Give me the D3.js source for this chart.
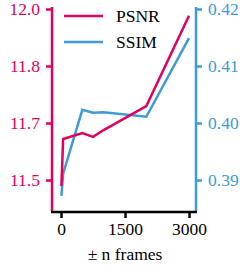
<!DOCTYPE html>
<html>
<head>
<meta charset="utf-8">
<script src="https://cdn.jsdelivr.net/npm/d3@7"></script>
<style>
  body { margin: 0; background: #fff; }
</style>
</head>
<body>
<svg id="chart" width="240" height="266"></svg>
<script>
// data
var frames = [10, 50, 500, 750, 1000, 2000, 3000];
var psnr = [11.482, 11.620, 11.637, 11.626, 11.646, 11.716, 11.980];
var ssim = [0.3872, 0.3911, 0.4023, 0.4018, 0.4019, 0.4011, 0.4149];
var xTicks = [0, 1500, 3000];
var psnrTicks = [11.5, 11.5 + 0.5 / 3, 11.5 + 1 / 3, 12.0];
var ssimTicks = [0.39, 0.40, 0.41, 0.42];

var red = "#e3005d", blue = "#3d9bd7";
var serif = "'Liberation Serif', 'Times New Roman', serif";
var svg = d3.select("#chart");

var leftX = 52, rightX = 196, baseY = 212, topY = 7;

var x = d3.scaleLinear().domain([0, 3000]).range([61, 189]);
var yL = d3.scaleLinear().domain([11.5, 12.0]).range([180, 9]);
var yR = d3.scaleLinear().domain([0.39, 0.42]).range([180, 9]);

// lines
var lineL = d3.line().x(function (d, i) { return x(frames[i]); }).y(function (d) { return yL(d); });
var lineR = d3.line().x(function (d, i) { return x(frames[i]); }).y(function (d) { return yR(d); });

svg.append("path").attr("d", lineR(ssim))
    .attr("fill", "none").attr("stroke", blue).attr("stroke-width", 2.5);
svg.append("path").attr("d", lineL(psnr))
    .attr("fill", "none").attr("stroke", red).attr("stroke-width", 2.5);

// left axis
var gl = svg.append("g").attr("transform", "translate(" + leftX + ",0)")
    .call(d3.axisLeft(yL).tickValues(psnrTicks).tickFormat(d3.format(".1f")).tickSize(6).tickPadding(6));
gl.select(".domain").remove();
gl.selectAll("line").attr("stroke", red).attr("stroke-width", 2.5);
gl.selectAll("text").attr("fill", red);
gl.append("line").attr("x1", 0).attr("x2", 0).attr("y1", topY).attr("y2", baseY)
    .attr("stroke", red).attr("stroke-width", 2.5);

// right axis
var gr = svg.append("g").attr("transform", "translate(" + rightX + ",0)")
    .call(d3.axisRight(yR).tickValues(ssimTicks).tickFormat(d3.format(".2f")).tickSize(6).tickPadding(6));
gr.select(".domain").remove();
gr.selectAll("line").attr("stroke", blue).attr("stroke-width", 2.5);
gr.selectAll("text").attr("fill", blue);
gr.append("line").attr("x1", 0).attr("x2", 0).attr("y1", topY).attr("y2", baseY)
    .attr("stroke", blue).attr("stroke-width", 2.5);

// bottom axis
var gb = svg.append("g").attr("transform", "translate(0," + baseY + ")")
    .call(d3.axisBottom(x).tickValues(xTicks).tickFormat(d3.format("d")).tickSize(6).tickPadding(5));
gb.select(".domain").remove();
gb.selectAll("line").attr("stroke", "#000").attr("stroke-width", 2.5);
gb.selectAll("text").attr("fill", "#000");
gb.append("line").attr("x1", leftX - 1).attr("x2", rightX + 1).attr("y1", 0).attr("y2", 0)
    .attr("stroke", "#000").attr("stroke-width", 2.5);

svg.append("text").attr("x", 125).attr("y", 260).attr("text-anchor", "middle")
    .text("± n frames");

// legend
var legend = [{name: "PSNR", color: red}, {name: "SSIM", color: blue}];
var lg = svg.selectAll(".leg").data(legend).enter().append("g")
    .attr("transform", function (d, i) { return "translate(64," + (16 + i * 26) + ")"; });
lg.append("line").attr("x1", 0).attr("x2", 39).attr("stroke", function (d) { return d.color; })
    .attr("stroke-width", 2.5);
lg.append("text").attr("x", 52).attr("y", 6).attr("fill", "#000").text(function (d) { return d.name; });

// serif everywhere
svg.selectAll("g").attr("font-family", null).attr("font-size", null);
svg.selectAll("text").style("font-family", serif).style("font-size", "17.5px");
</script>
</body>
</html>
